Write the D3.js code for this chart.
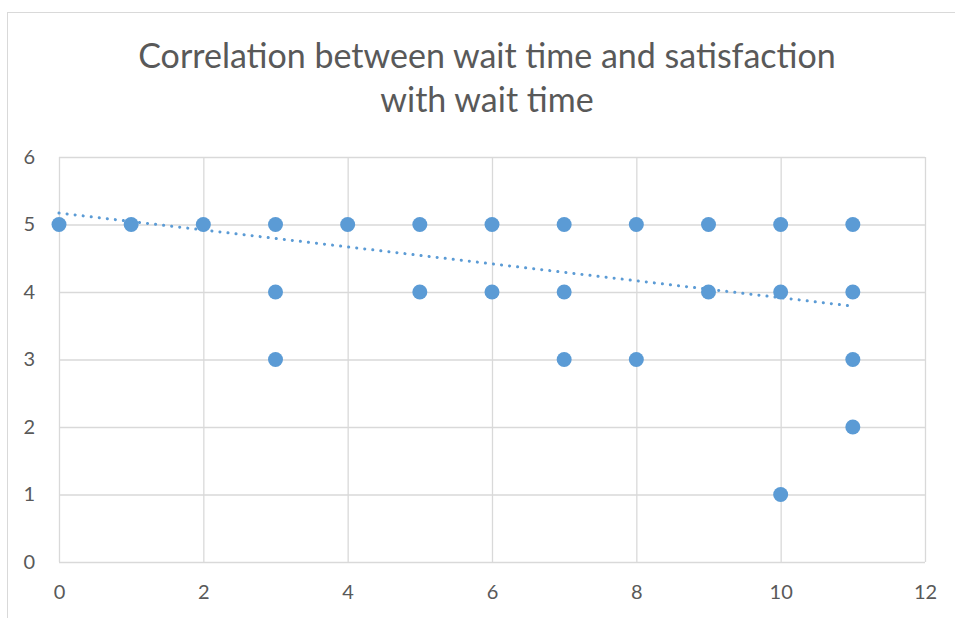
<!DOCTYPE html>
<html>
<head>
<meta charset="utf-8">
<script src="https://cdn.jsdelivr.net/npm/d3@7"></script>
<style>
  body { margin: 0; background: #fff; }
  text { font-family: Lato, "Open Sans", sans-serif; fill: #595959; }
</style>
</head>
<body>
<svg id="chart"></svg>
<script>
const waitTime     = [0, 1, 2, 3, 3, 3, 4, 5, 5, 6, 6, 7, 7, 7, 8, 8, 9, 9, 10, 10, 10, 11, 11, 11, 11];
const satisfaction = [5, 5, 5, 5, 4, 3, 5, 5, 4, 5, 4, 5, 4, 3, 5, 3, 5, 4, 5, 4, 1, 5, 4, 3, 2];
const trendX = [0, 11];
const trendY = [5.17, 3.79];
const xTicks = [0, 2, 4, 6, 8, 10, 12];
const yTicks = [0, 1, 2, 3, 4, 5, 6];
const titleLines = ["Correlation between wait time and satisfaction", "with wait time"];

const blue = "#5B9BD5", grid = "#d9d9d9";
const W = 955, H = 618;
const margin = { top: 157, right: 30, bottom: 56, left: 59 },
      width = W - margin.left - margin.right,
      height = H - margin.top - margin.bottom;

const svg = d3.select("#chart").attr("width", W).attr("height", H);

// outer chart border
svg.append("rect")
  .attr("x", 7.5).attr("y", 12.5)
  .attr("width", 1000).attr("height", 1000)
  .attr("fill", "none").attr("stroke", grid);

const g = svg.append("g").attr("transform", `translate(${margin.left},${margin.top})`);

const x = d3.scaleLinear().domain([0, 12]).range([0, width]);
const y = d3.scaleLinear().domain([0, 6]).range([height, 0]);

// Grid
g.append("g")
  .attr("transform", `translate(0,${height})`)
  .call(d3.axisBottom(x).tickValues(xTicks).tickSize(-height).tickFormat(""))
  .call(a => a.select(".domain").remove())
  .selectAll("line").attr("stroke", grid).attr("stroke-width", 1.3);

g.append("g")
  .call(d3.axisLeft(y).tickValues(yTicks).tickSize(-width).tickFormat(""))
  .call(a => a.select(".domain").remove())
  .selectAll("line").attr("stroke", grid).attr("stroke-width", 1.3);

// Tick labels
const xAxis = g.append("g")
  .attr("transform", `translate(0,${height})`)
  .call(d3.axisBottom(x).tickValues(xTicks).tickSize(0).tickPadding(23).tickFormat(d3.format("d")));
xAxis.select(".domain").remove();
xAxis.selectAll("text").style("font-size", "20px").style("fill", "#595959");

const yAxis = g.append("g")
  .call(d3.axisLeft(y).tickValues(yTicks).tickSize(0).tickPadding(24).tickFormat(d3.format("d")));
yAxis.select(".domain").remove();
yAxis.selectAll("text").style("font-size", "20px").style("fill", "#595959");

// Points
g.selectAll(".dot")
  .data(waitTime.map((d, i) => ({ x: d, y: satisfaction[i] })))
  .join("circle")
  .attr("class", "dot")
  .attr("cx", d => x(d.x))
  .attr("cy", d => y(d.y))
  .attr("r", 7.5)
  .attr("fill", blue);

// Trendline
g.append("path")
  .datum(trendX.map((d, i) => [d, trendY[i]]))
  .attr("d", d3.line().x(d => x(d[0])).y(d => y(d[1])))
  .attr("fill", "none")
  .attr("stroke", blue)
  .attr("stroke-width", 3)
  .attr("stroke-linecap", "round")
  .attr("stroke-dasharray", "0.1 8");

// Title
svg.selectAll(".title")
  .data(titleLines)
  .join("text")
  .attr("class", "title")
  .attr("x", 487)
  .attr("y", (d, i) => 68 + i * 44)
  .attr("text-anchor", "middle")
  .style("font-size", "34px")
  .text(d => d);
</script>
</body>
</html>
